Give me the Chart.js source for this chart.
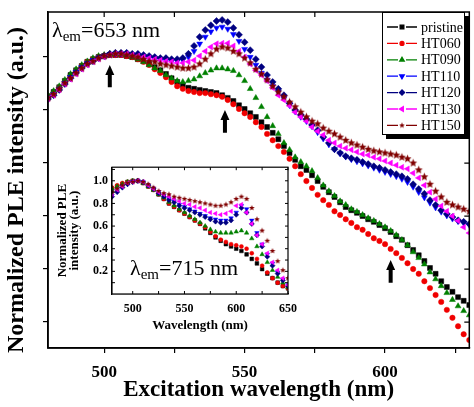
<!DOCTYPE html>
<html>
<head>
<meta charset="utf-8">
<script src="https://cdn.jsdelivr.net/npm/chart.js@4.4.0/dist/chart.umd.min.js"></script>
<style>
  html, body { margin: 0; padding: 0; background: #fff; }
  #wrap { position: relative; width: 474px; height: 407px; }
  #main { position: absolute; left: 0; top: 0; }
  #inset { position: absolute; left: 55px; top: 156px; }
</style>
</head>
<body>
<div id="wrap">
  <canvas id="main" width="474" height="407"></canvas>
  <canvas id="inset" width="250" height="182"></canvas>
</div>
<script>
// ---- data: main plot (lambda_em = 653 nm) ----
const seriesNames = ['pristine', 'HT060', 'HT090', 'HT110', 'HT120', 'HT130', 'HT150'];

const mainWl = [480, 482, 484, 486, 488, 490, 492, 494, 496, 498,
  500, 502, 504, 506, 508, 510, 512, 514, 516, 518,
  520, 522, 524, 526, 528, 530, 532, 534, 536, 538,
  540, 542, 544, 546, 548, 550, 552, 554, 556, 558,
  560, 562, 564, 566, 568, 570, 572, 574, 576, 578,
  580, 582, 584, 586, 588, 590, 592, 594, 596, 598,
  600, 602, 604, 606, 608, 610, 612, 614, 616, 618,
  620, 622, 624, 626, 628, 630];

const mainPristine = [0.926, 0.934, 0.943, 0.955, 0.966, 0.975, 0.983, 0.991, 0.996, 1.000,
  1.002, 1.004, 1.004, 1.004, 1.002, 1.000, 0.996, 0.992, 0.987, 0.981,
  0.975, 0.968, 0.960, 0.953, 0.947, 0.942, 0.940, 0.938, 0.936, 0.934,
  0.932, 0.928, 0.923, 0.917, 0.909, 0.902, 0.894, 0.887, 0.877, 0.868,
  0.857, 0.845, 0.832, 0.819, 0.806, 0.794, 0.787, 0.777, 0.766, 0.755,
  0.745, 0.736, 0.726, 0.717, 0.711, 0.706, 0.700, 0.694, 0.689, 0.683,
  0.677, 0.670, 0.662, 0.655, 0.645, 0.636, 0.626, 0.615, 0.602, 0.591,
  0.577, 0.566, 0.557, 0.547, 0.540, 0.532];
const mainHT060 = [0.925, 0.932, 0.942, 0.953, 0.964, 0.974, 0.983, 0.991, 0.996, 1.000,
  1.002, 1.004, 1.004, 1.004, 1.002, 1.000, 0.996, 0.991, 0.985, 0.977,
  0.970, 0.962, 0.953, 0.945, 0.940, 0.936, 0.934, 0.932, 0.932, 0.930,
  0.928, 0.925, 0.919, 0.911, 0.902, 0.894, 0.887, 0.877, 0.868, 0.855,
  0.843, 0.832, 0.821, 0.808, 0.794, 0.779, 0.766, 0.753, 0.740, 0.730,
  0.721, 0.709, 0.702, 0.694, 0.687, 0.679, 0.674, 0.666, 0.658, 0.653,
  0.647, 0.638, 0.630, 0.621, 0.611, 0.600, 0.591, 0.577, 0.564, 0.551,
  0.538, 0.523, 0.508, 0.492, 0.477, 0.466];
const mainHT090 = [0.928, 0.936, 0.945, 0.957, 0.968, 0.977, 0.985, 0.992, 0.998, 1.002,
  1.004, 1.006, 1.006, 1.006, 1.004, 1.000, 0.996, 0.991, 0.985, 0.979,
  0.974, 0.966, 0.960, 0.955, 0.953, 0.955, 0.958, 0.964, 0.970, 0.975,
  0.979, 0.979, 0.977, 0.974, 0.966, 0.955, 0.940, 0.923, 0.906, 0.887,
  0.870, 0.855, 0.838, 0.825, 0.811, 0.802, 0.794, 0.785, 0.772, 0.758,
  0.747, 0.738, 0.728, 0.721, 0.713, 0.708, 0.702, 0.696, 0.691, 0.685,
  0.679, 0.672, 0.664, 0.655, 0.645, 0.632, 0.621, 0.609, 0.594, 0.581,
  0.568, 0.555, 0.542, 0.530, 0.521, 0.513];
const mainHT110 = [0.923, 0.930, 0.940, 0.951, 0.962, 0.972, 0.981, 0.988, 0.994, 0.999,
  1.002, 1.005, 1.006, 1.006, 1.006, 1.004, 1.002, 1.000, 0.998, 0.996,
  0.994, 0.993, 0.992, 0.992, 0.994, 1.000, 1.011, 1.025, 1.038, 1.048,
  1.055, 1.057, 1.053, 1.043, 1.030, 1.015, 1.000, 0.985, 0.970, 0.957,
  0.945, 0.934, 0.922, 0.909, 0.897, 0.887, 0.879, 0.869, 0.858, 0.846,
  0.835, 0.826, 0.818, 0.812, 0.807, 0.803, 0.799, 0.795, 0.791, 0.787,
  0.783, 0.779, 0.775, 0.770, 0.764, 0.755, 0.745, 0.735, 0.725, 0.716,
  0.708, 0.701, 0.695, 0.690, 0.687, 0.683];
const mainHT120 = [0.921, 0.928, 0.938, 0.949, 0.960, 0.970, 0.979, 0.987, 0.992, 0.998,
  1.002, 1.006, 1.008, 1.008, 1.008, 1.006, 1.006, 1.004, 1.002, 1.000,
  0.998, 0.998, 0.996, 0.996, 0.998, 1.006, 1.021, 1.038, 1.051, 1.060,
  1.068, 1.070, 1.066, 1.055, 1.042, 1.028, 1.013, 0.996, 0.981, 0.966,
  0.953, 0.940, 0.928, 0.913, 0.900, 0.891, 0.883, 0.872, 0.862, 0.849,
  0.838, 0.826, 0.819, 0.813, 0.809, 0.806, 0.802, 0.798, 0.794, 0.791,
  0.787, 0.783, 0.779, 0.775, 0.770, 0.760, 0.751, 0.742, 0.730, 0.721,
  0.711, 0.704, 0.698, 0.692, 0.689, 0.685];
const mainHT130 = [0.921, 0.928, 0.938, 0.949, 0.958, 0.968, 0.977, 0.985, 0.991, 0.996,
  1.000, 1.004, 1.006, 1.006, 1.006, 1.004, 1.002, 1.000, 0.998, 0.996,
  0.994, 0.992, 0.991, 0.989, 0.989, 0.991, 0.994, 1.002, 1.011, 1.019,
  1.025, 1.026, 1.026, 1.021, 1.011, 1.000, 0.987, 0.975, 0.966, 0.955,
  0.942, 0.928, 0.919, 0.908, 0.896, 0.887, 0.879, 0.868, 0.860, 0.853,
  0.843, 0.838, 0.832, 0.828, 0.825, 0.821, 0.817, 0.815, 0.811, 0.808,
  0.804, 0.800, 0.796, 0.792, 0.789, 0.781, 0.772, 0.758, 0.745, 0.732,
  0.719, 0.709, 0.700, 0.691, 0.679, 0.668];
const mainHT150 = [0.923, 0.930, 0.940, 0.951, 0.960, 0.970, 0.979, 0.987, 0.992, 0.998,
  1.002, 1.004, 1.006, 1.006, 1.004, 1.002, 1.000, 0.996, 0.992, 0.991,
  0.987, 0.985, 0.983, 0.981, 0.979, 0.979, 0.981, 0.987, 0.996, 1.006,
  1.015, 1.019, 1.017, 1.011, 1.006, 0.998, 0.989, 0.977, 0.968, 0.957,
  0.945, 0.934, 0.925, 0.915, 0.906, 0.896, 0.887, 0.879, 0.874, 0.866,
  0.860, 0.855, 0.849, 0.843, 0.838, 0.834, 0.830, 0.826, 0.823, 0.821,
  0.819, 0.817, 0.815, 0.811, 0.808, 0.800, 0.787, 0.774, 0.760, 0.747,
  0.736, 0.726, 0.721, 0.717, 0.713, 0.709];

const mainXTicks = [500, 525, 550, 575, 600, 625];
const mainXLabels = [500, 550, 600];
const mainYTicks = [0.5, 0.6, 0.7, 0.8, 0.9, 1.0];

// ---- data: inset (lambda_em = 715 nm) ----
const insetWl = [480, 485, 490, 495, 500, 505, 510, 515, 520, 525,
  530, 535, 540, 545, 550, 555, 560, 565, 570, 575,
  580, 585, 590, 595, 600, 605, 610, 615, 620, 625,
  630, 635, 640, 645, 650];
const insetPristine = [0.93, 0.95, 0.97, 0.99, 1.00, 1.00, 0.98, 0.95, 0.92, 0.88,
  0.84, 0.80, 0.77, 0.74, 0.71, 0.68, 0.65, 0.62, 0.58, 0.54,
  0.50, 0.47, 0.44, 0.42, 0.40, 0.38, 0.35, 0.31, 0.27, 0.22,
  0.18, 0.14, 0.10, 0.07, 0.05];
const insetHT060 = [0.94, 0.96, 0.98, 0.99, 1.00, 1.00, 0.98, 0.95, 0.92, 0.88,
  0.84, 0.80, 0.77, 0.74, 0.71, 0.68, 0.65, 0.62, 0.59, 0.55,
  0.51, 0.48, 0.46, 0.44, 0.43, 0.42, 0.40, 0.36, 0.31, 0.25,
  0.19, 0.14, 0.10, 0.07, 0.05];
const insetHT090 = [0.93, 0.95, 0.97, 0.99, 1.00, 1.00, 0.98, 0.95, 0.92, 0.88,
  0.85, 0.81, 0.78, 0.75, 0.72, 0.69, 0.66, 0.63, 0.60, 0.57,
  0.55, 0.54, 0.54, 0.54, 0.55, 0.56, 0.54, 0.49, 0.42, 0.35,
  0.28, 0.21, 0.15, 0.10, 0.06];
const insetHT110 = [0.87, 0.91, 0.95, 0.97, 0.99, 1.00, 0.99, 0.96, 0.93, 0.90,
  0.87, 0.84, 0.82, 0.79, 0.77, 0.75, 0.73, 0.71, 0.69, 0.67,
  0.66, 0.65, 0.65, 0.67, 0.72, 0.78, 0.75, 0.65, 0.54, 0.44,
  0.35, 0.27, 0.19, 0.13, 0.08];
const insetHT120 = [0.86, 0.90, 0.94, 0.97, 0.99, 1.00, 0.99, 0.96, 0.93, 0.89,
  0.86, 0.83, 0.81, 0.78, 0.76, 0.74, 0.72, 0.70, 0.68, 0.66,
  0.64, 0.63, 0.63, 0.65, 0.70, 0.76, 0.72, 0.62, 0.52, 0.42,
  0.33, 0.25, 0.18, 0.12, 0.07];
const insetHT130 = [0.88, 0.92, 0.95, 0.98, 0.99, 1.00, 0.99, 0.96, 0.93, 0.90,
  0.88, 0.86, 0.84, 0.82, 0.80, 0.79, 0.77, 0.76, 0.74, 0.72,
  0.71, 0.70, 0.71, 0.73, 0.78, 0.79, 0.72, 0.62, 0.52, 0.44,
  0.36, 0.28, 0.21, 0.14, 0.08];
const insetHT150 = [0.90, 0.93, 0.96, 0.98, 0.99, 1.00, 0.99, 0.97, 0.94, 0.91,
  0.89, 0.88, 0.86, 0.85, 0.84, 0.83, 0.82, 0.81, 0.80, 0.79,
  0.78, 0.78, 0.79, 0.81, 0.84, 0.86, 0.84, 0.76, 0.66, 0.56,
  0.47, 0.38, 0.29, 0.21, 0.14];

const insetXTicks = [500, 525, 550, 575, 600, 625, 650];
const insetXLabels = [500, 550, 600, 650];
const insetYTicks = [0.1, 0.2, 0.3, 0.4, 0.5, 0.6, 0.7, 0.8, 0.9, 1.0, 1.1];
const insetYLabels = [0.2, 0.4, 0.6, 0.8, 1.0];

// arrows marking the features in the main plot (wavelength, tip, base)
const arrowWl = [502, 543, 602];
const arrowTip = [0.985, 0.900, 0.617];
const arrowBase = [0.943, 0.857, 0.574];

const mainSeries = [mainPristine, mainHT060, mainHT090, mainHT110, mainHT120, mainHT130, mainHT150];
const insetSeries = [insetPristine, insetHT060, insetHT090, insetHT110, insetHT120, insetHT130, insetHT150];

// ---- styles ----
const SERIF = "'Liberation Serif', 'Times New Roman', serif";

function starImage(r, color) {
  const c = document.createElement('canvas');
  const s = Math.ceil(r * 2) + 2;
  c.width = s; c.height = s;
  const g = c.getContext('2d');
  g.fillStyle = color;
  g.beginPath();
  for (let i = 0; i < 10; i++) {
    const a = -Math.PI / 2 + i * Math.PI / 5;
    const rr = i % 2 === 0 ? r : r * 0.45;
    g.lineTo(s / 2 + rr * Math.cos(a), s / 2 + rr * Math.sin(a));
  }
  g.closePath();
  g.fill();
  return c;
}

const seriesStyle = [
  { color: '#000000', shape: 'rect', rot: 0, r: 3.5, ri: 2.6 },
  { color: '#f00000', shape: 'circle', rot: 0, r: 2.7, ri: 2.0 },
  { color: '#008000', shape: 'triangle', rot: 0, r: 3.4, ri: 2.6 },
  { color: '#0000ff', shape: 'triangle', rot: 180, r: 3.4, ri: 2.6 },
  { color: '#000080', shape: 'rectRot', rot: 0, r: 3.5, ri: 2.6 },
  { color: '#ff00ff', shape: 'triangle', rot: 270, r: 3.4, ri: 2.6 },
  { color: '#800000', shape: null, rot: 0, r: 4.2, ri: 3.0 }
];
seriesStyle[6].shapeMain = starImage(4.2, '#800000');
seriesStyle[6].shapeInset = starImage(3.0, '#800000');

function buildDatasets(xs, list, inset) {
  return list.map((ys, i) => {
    const st = seriesStyle[i];
    const shape = st.shape || (inset ? st.shapeInset : st.shapeMain);
    return {
      label: seriesNames[i],
      data: xs.map((x, k) => ({ x: x, y: ys[k] })),
      showLine: false,
      pointStyle: shape,
      pointRotation: st.rot,
      pointRadius: inset ? st.ri : st.r,
      pointBackgroundColor: st.color,
      pointBorderColor: st.color,
      pointBorderWidth: 0.5,
      order: 7 - i
    };
  });
}

function drawLambda(ctx, x, y, rest) {
  ctx.save();
  ctx.fillStyle = '#000';
  ctx.textBaseline = 'alphabetic';
  ctx.textAlign = 'left';
  ctx.font = '22px ' + SERIF;
  ctx.fillText('\u03bb', x, y);
  x += ctx.measureText('\u03bb').width;
  ctx.font = '15px ' + SERIF;
  ctx.fillText('em', x, y + 4);
  x += ctx.measureText('em').width;
  ctx.font = '22px ' + SERIF;
  ctx.fillText(rest, x, y);
  ctx.restore();
}

function drawArrow(ctx, x, yTip, yBase) {
  const headH = 10, headW = 4.5, shaftW = 2;
  ctx.beginPath();
  ctx.moveTo(x, yTip);
  ctx.lineTo(x + headW, yTip + headH);
  ctx.lineTo(x + shaftW, yTip + headH);
  ctx.lineTo(x + shaftW, yBase);
  ctx.lineTo(x - shaftW, yBase);
  ctx.lineTo(x - shaftW, yTip + headH);
  ctx.lineTo(x - headW, yTip + headH);
  ctx.closePath();
  ctx.fill();
}

const mainDecor = {
  id: 'mainDecor',
  afterDraw(chart) {
    const ctx = chart.ctx;
    const a = chart.chartArea;
    const xs = chart.scales.x, ys = chart.scales.y;
    ctx.save();
    ctx.strokeStyle = '#000';
    ctx.lineWidth = 1.5;
    ctx.strokeRect(a.left, a.top, a.right - a.left, a.bottom - a.top);
    ctx.lineWidth = 1.2;
    ctx.beginPath();
    mainXTicks.forEach(v => {
      const px = xs.getPixelForValue(v);
      ctx.moveTo(px, a.top); ctx.lineTo(px, a.top + 5);
    });
    mainYTicks.forEach(v => {
      const py = ys.getPixelForValue(v);
      ctx.moveTo(a.right, py); ctx.lineTo(a.right - 5, py);
    });
    ctx.stroke();

    // y axis title, a little below the plot centre as in the original
    ctx.save();
    ctx.translate(17, (a.top + a.bottom) / 2 + 10);
    ctx.rotate(-Math.PI / 2);
    ctx.fillStyle = '#000';
    ctx.font = 'bold 24px ' + SERIF;
    ctx.textAlign = 'center';
    ctx.textBaseline = 'middle';
    ctx.fillText('Normalized PLE intensity (a.u.)', 0, 0);
    ctx.restore();

    // arrows
    ctx.fillStyle = '#000';
    arrowWl.forEach((w, i) => {
      drawArrow(ctx, xs.getPixelForValue(w), ys.getPixelForValue(arrowTip[i]), ys.getPixelForValue(arrowBase[i]));
    });

    drawLambda(ctx, a.left + 4, a.top + 25, '=653 nm');

    // legend box with shadow
    const lx = 382, ly = a.top, lw = 83, lh = 123;
    ctx.fillStyle = '#000';
    ctx.fillRect(lx + 4, ly + 4, lw, lh);
    ctx.fillStyle = '#fff';
    ctx.fillRect(lx, ly, lw, lh);
    ctx.lineWidth = 1;
    ctx.strokeRect(lx + 0.5, ly + 0.5, lw - 1, lh - 1);
    ctx.font = '14px ' + SERIF;
    ctx.textBaseline = 'middle';
    ctx.textAlign = 'left';
    seriesNames.forEach((name, i) => {
      const st = seriesStyle[i];
      const y = ly + 15 + i * 16.4;
      ctx.strokeStyle = st.color;
      ctx.fillStyle = st.color;
      ctx.lineWidth = 1.3;
      ctx.beginPath();
      ctx.moveTo(lx + 5, y); ctx.lineTo(lx + 16, y);
      ctx.moveTo(lx + 24, y); ctx.lineTo(lx + 35, y);
      ctx.stroke();
      Chart.helpers.drawPoint(ctx, {
        pointStyle: st.shape || st.shapeInset,
        rotation: st.rot,
        radius: st.shape ? st.ri : 3,
        borderWidth: 0.5
      }, lx + 20, y);
      ctx.fillStyle = '#000';
      ctx.fillText(name, lx + 39, y + 1);
    });
    ctx.restore();
  }
};

const insetDecor = {
  id: 'insetDecor',
  beforeDatasetsDraw(chart) {
    const a = chart.chartArea;
    chart.ctx.save();
    chart.ctx.fillStyle = '#fff';
    chart.ctx.fillRect(a.left, a.top, a.right - a.left, a.bottom - a.top);
    chart.ctx.restore();
  },
  afterDraw(chart) {
    const ctx = chart.ctx;
    const a = chart.chartArea;
    const xs = chart.scales.x, ys = chart.scales.y;
    ctx.save();
    ctx.strokeStyle = '#000';
    ctx.lineWidth = 1.2;
    ctx.strokeRect(a.left, a.top, a.right - a.left, a.bottom - a.top);
    ctx.lineWidth = 1;
    ctx.beginPath();
    insetXTicks.forEach(v => {
      const px = xs.getPixelForValue(v);
      ctx.moveTo(px, a.top); ctx.lineTo(px, a.top + 3);
      ctx.moveTo(px, a.bottom); ctx.lineTo(px, a.bottom - 3);
    });
    insetYTicks.forEach(v => {
      const py = ys.getPixelForValue(v);
      ctx.moveTo(a.left, py); ctx.lineTo(a.left + 3, py);
      ctx.moveTo(a.right, py); ctx.lineTo(a.right - 3, py);
    });
    ctx.stroke();
    drawLambda(ctx, a.left + 18, a.top + 108, '=715 nm');
    ctx.restore();
  }
};

new Chart(document.getElementById('main'), {
  type: 'scatter',
  data: { datasets: buildDatasets(mainWl, mainSeries, false) },
  options: {
    responsive: false,
    animation: false,
    layout: { padding: { top: 12, right: 4, left: 0, bottom: 0 } },
    plugins: { legend: { display: false }, tooltip: { enabled: false } },
    scales: {
      x: {
        type: 'linear', min: 480, max: 630,
        afterBuildTicks: s => { s.ticks = mainXTicks.map(v => ({ value: v })); },
        afterFit: s => { s.height = 59; },
        ticks: {
          autoSkip: false, maxRotation: 0, padding: 9, color: '#000',
          font: { family: SERIF, size: 17, weight: 'bold' },
          callback: v => mainXLabels.includes(v) ? String(v) : ''
        },
        grid: { drawOnChartArea: false, drawTicks: true, tickLength: 5, color: '#000', lineWidth: 1.2 },
        border: { color: '#000', width: 1.5 },
        title: {
          display: true, text: 'Excitation wavelength (nm)', color: '#000',
          font: { family: SERIF, size: 23, weight: 'bold' },
          padding: { top: 0, bottom: 3 }
        }
      },
      y: {
        type: 'linear', min: 0.451, max: 1.085,
        afterBuildTicks: s => { s.ticks = mainYTicks.map(v => ({ value: v })); },
        afterFit: s => { s.width = 48; },
        ticks: { display: false },
        grid: { drawOnChartArea: false, drawTicks: true, tickLength: 5, color: '#000', lineWidth: 1.2 },
        border: { color: '#000', width: 1.5 },
        title: { display: false }
      }
    }
  },
  plugins: [mainDecor]
});

new Chart(document.getElementById('inset'), {
  type: 'scatter',
  data: { datasets: buildDatasets(insetWl, insetSeries, true) },
  options: {
    responsive: false,
    animation: false,
    layout: { padding: { top: 7, right: 17, left: 0, bottom: 0 } },
    plugins: { legend: { display: false }, tooltip: { enabled: false } },
    scales: {
      x: {
        type: 'linear', min: 480, max: 650,
        afterBuildTicks: s => { s.ticks = insetXTicks.map(v => ({ value: v })); },
        afterFit: s => { s.height = 44; },
        ticks: {
          autoSkip: false, maxRotation: 0, padding: 8, color: '#000',
          font: { family: SERIF, size: 12, weight: 'bold' },
          callback: v => insetXLabels.includes(v) ? String(v) : ''
        },
        grid: { drawOnChartArea: false, drawTicks: false },
        border: { color: '#000', width: 1.2 },
        title: {
          display: true, text: 'Wavelength (nm)', color: '#000',
          font: { family: SERIF, size: 13, weight: 'bold' },
          padding: { top: 0, bottom: 5 }
        }
      },
      y: {
        type: 'linear', min: 0, max: 1.12,
        afterBuildTicks: s => { s.ticks = insetYTicks.map(v => ({ value: v })); },
        afterFit: s => { s.width = 57; },
        ticks: {
          autoSkip: false, padding: 4, color: '#000',
          font: { family: SERIF, size: 12, weight: 'bold' },
          callback: v => insetYLabels.some(l => Math.abs(l - v) < 1e-6) ? v.toFixed(1) : ''
        },
        grid: { drawOnChartArea: false, drawTicks: false },
        border: { color: '#000', width: 1.2 },
        title: {
          display: true, text: ['Normalized PLE', 'intensity (a.u.)'], color: '#000',
          font: { family: SERIF, size: 13, weight: 'bold', lineHeight: 0.95 },
          padding: { top: 1, bottom: 0 }
        }
      }
    }
  },
  plugins: [insetDecor]
});
</script>
</body>
</html>
